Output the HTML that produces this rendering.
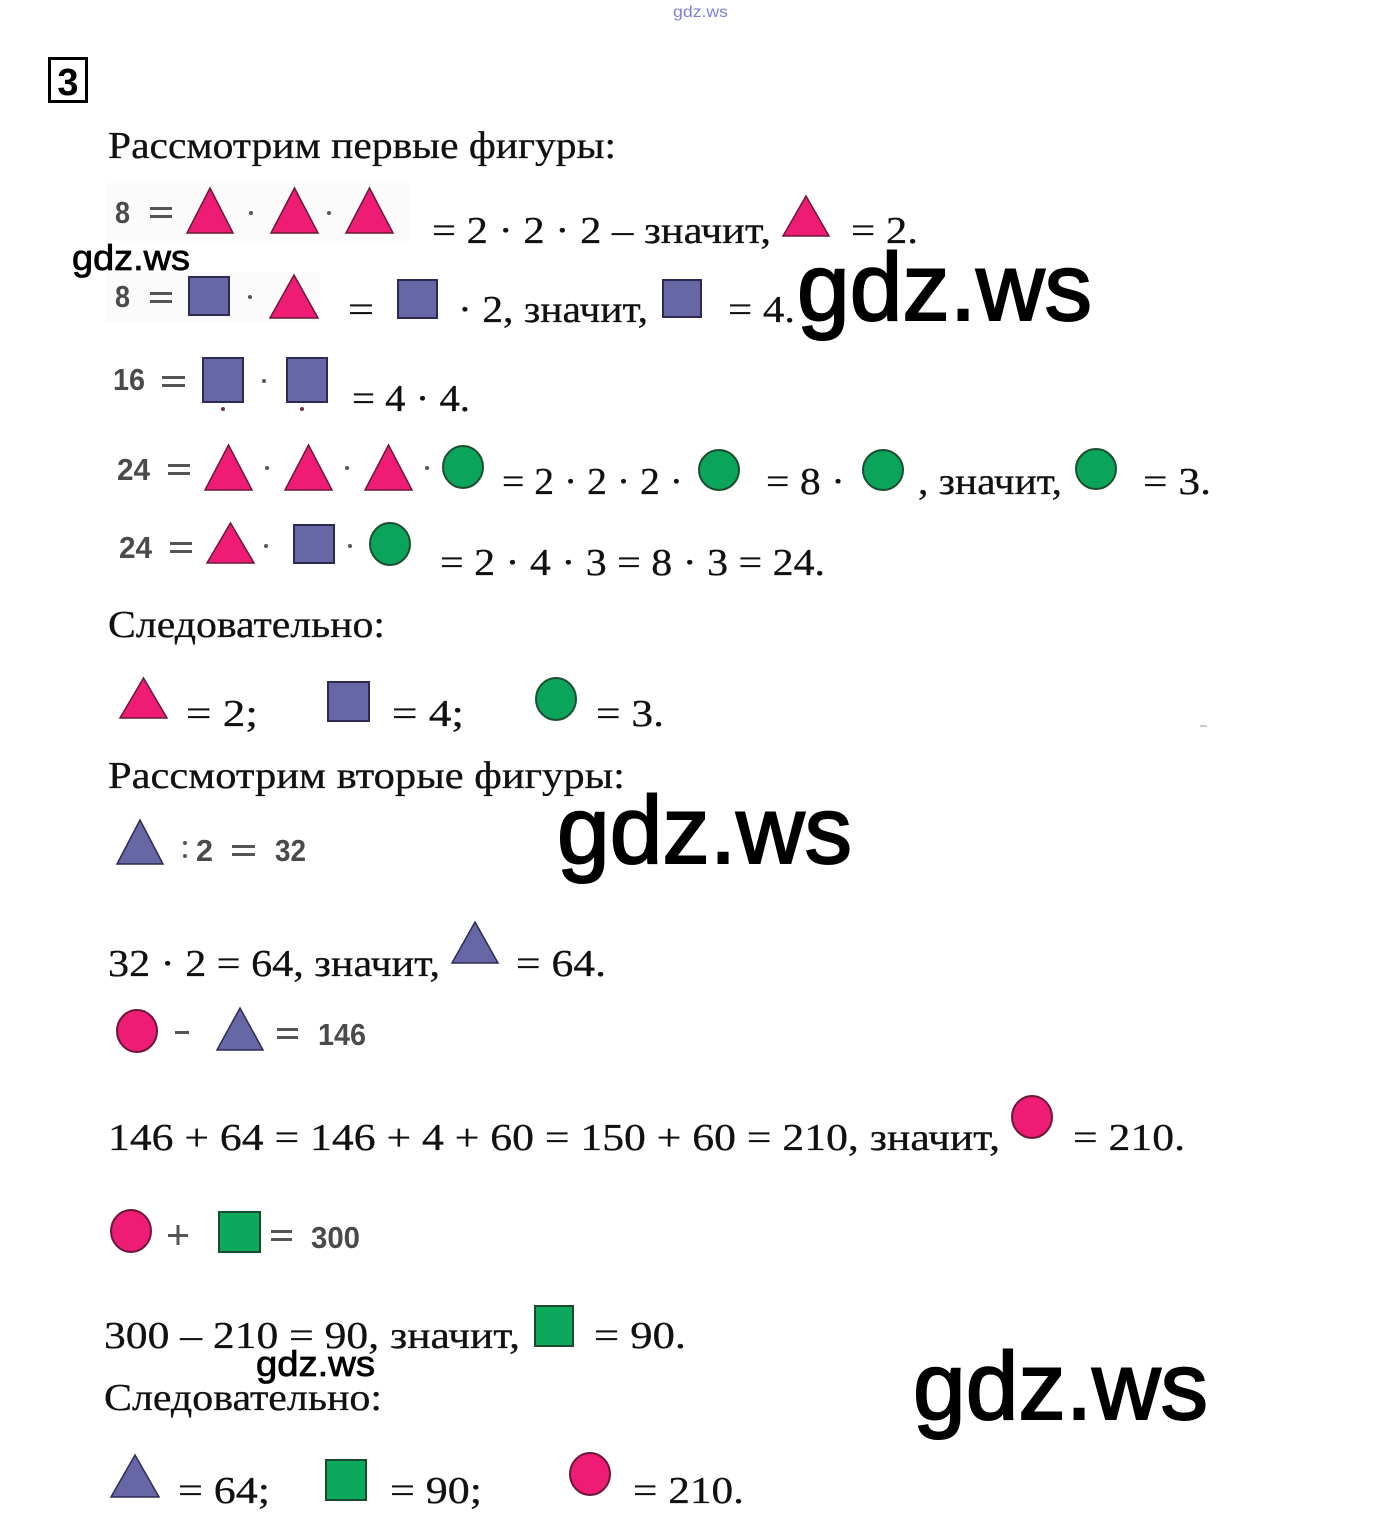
<!DOCTYPE html>
<html><head><meta charset="utf-8"><style>
html,body{margin:0;padding:0;background:#fff;width:1400px;height:1527px;overflow:hidden}
svg{display:block}
.s{font-family:"Liberation Serif",serif;font-size:38px;fill:#111;stroke:#111;stroke-width:0.3}
.g{font-family:"Liberation Sans",sans-serif;font-size:31px;font-weight:bold;fill:#4a4a4a}
.w{font-family:"Liberation Sans",sans-serif;fill:#000;stroke:#000}
.pt{fill:#ee1c74;stroke:#6b1838;stroke-width:1.5}
.bt{fill:#6767a6;stroke:#2b2b55;stroke-width:1.5}
.gc{fill:#0aa55a;stroke:#1d4d30;stroke-width:2}
.pc{fill:#ee1c74;stroke:#6b1838;stroke-width:2}
.gs{fill:#0ca85c;stroke:#1d4a2e;stroke-width:2}
.bs{fill:#6767a6;stroke:#2b2b55;stroke-width:2}
.gr{fill:#555}
</style></head><body>
<svg width="1400" height="1527" viewBox="0 0 1400 1527" xmlns="http://www.w3.org/2000/svg">
<!-- top watermark -->
<text x="673" y="17" font-family="Liberation Sans,sans-serif" font-size="16" fill="#7f7fdc" textLength="55" lengthAdjust="spacingAndGlyphs">gdz.ws</text>
<!-- box 3 -->
<rect x="49.5" y="58.5" width="37" height="43" fill="none" stroke="#000" stroke-width="3"/>
<text x="68" y="95" text-anchor="middle" font-family="Liberation Sans,sans-serif" font-weight="bold" font-size="38" fill="#000">3</text>

<text class="s" x="108" y="158" textLength="508" lengthAdjust="spacingAndGlyphs">Рассмотрим первые фигуры:</text>

<!-- row 2 -->
<rect x="105" y="183" width="305" height="58" fill="#fbfbfb"/>
<text class="g" x="115" y="223" textLength="15" lengthAdjust="spacingAndGlyphs">8</text>
<rect class="gr" x="150" y="207" width="22" height="3"/><rect class="gr" x="150" y="215" width="22" height="3"/>
<polygon class="pt" points="210,188 233,233 187,233"/>
<circle class="gr" cx="251" cy="213" r="2"/>
<polygon class="pt" points="294.5,188 318,233 271,233"/>
<circle class="gr" cx="329" cy="213" r="2"/>
<polygon class="pt" points="369.5,188 393,233 346,233"/>
<text class="s" x="432" y="243" textLength="339" lengthAdjust="spacingAndGlyphs">= 2 · 2 · 2 – значит,</text>
<polygon class="pt" points="806,196 829,236 783,236"/>
<text class="s" x="851" y="243" textLength="67" lengthAdjust="spacingAndGlyphs">= 2.</text>

<text class="w" x="72" y="270" font-size="36" stroke-width="0.8" textLength="118" lengthAdjust="spacingAndGlyphs">gdz.ws</text>

<!-- row 3 -->
<rect x="105" y="272" width="215" height="50" fill="#fbfbfb"/>
<text class="g" x="115" y="307" textLength="15" lengthAdjust="spacingAndGlyphs">8</text>
<rect class="gr" x="150" y="292" width="22" height="3"/><rect class="gr" x="150" y="300" width="22" height="3"/>
<rect class="bs" x="189" y="277" width="40" height="38"/>
<circle class="gr" cx="250" cy="297" r="2"/>
<polygon class="pt" points="294,275 318,318 270,318"/>
<text class="s" x="348" y="322" textLength="26" lengthAdjust="spacingAndGlyphs">=</text>
<rect class="bs" x="398" y="280" width="39" height="38"/>
<text class="s" x="458" y="322" textLength="190" lengthAdjust="spacingAndGlyphs">· 2, значит,</text>
<rect class="bs" x="663" y="280" width="38" height="37"/>
<text class="s" x="728" y="322" font-size="34" textLength="67" lengthAdjust="spacingAndGlyphs">= 4.</text>
<text class="w" x="797" y="320" font-size="96" stroke-width="2" textLength="295" lengthAdjust="spacingAndGlyphs">gdz.ws</text>

<!-- row 4 -->
<text class="g" x="113" y="390" textLength="32" lengthAdjust="spacingAndGlyphs">16</text>
<rect class="gr" x="162" y="376" width="23" height="3"/><rect class="gr" x="162" y="384" width="23" height="3"/>
<rect class="bs" x="203" y="358" width="40" height="44"/>
<circle class="gr" cx="264" cy="381" r="2"/>
<rect class="bs" x="287" y="358" width="40" height="44"/>
<circle cx="223" cy="409" r="2" fill="#7a3040"/><circle cx="302" cy="409" r="2" fill="#7a3040"/>
<text class="s" x="352" y="411" textLength="118" lengthAdjust="spacingAndGlyphs">= 4 · 4.</text>

<!-- row 5 -->
<text class="g" x="117" y="480" textLength="33" lengthAdjust="spacingAndGlyphs">24</text>
<rect class="gr" x="168" y="464" width="22" height="3"/><rect class="gr" x="168" y="472" width="22" height="3"/>
<polygon class="pt" points="228.5,445 252,490 205,490"/>
<circle class="gr" cx="267" cy="468" r="2"/>
<polygon class="pt" points="308.5,445 332,490 285,490"/>
<circle class="gr" cx="347" cy="468" r="2"/>
<polygon class="pt" points="388.5,445 412,490 365,490"/>
<circle class="gr" cx="427" cy="468" r="2"/>
<ellipse class="gc" cx="463" cy="467" rx="20" ry="21"/>
<text class="s" x="502" y="494" textLength="181" lengthAdjust="spacingAndGlyphs">= 2 · 2 · 2 ·</text>
<ellipse class="gc" cx="719" cy="470" rx="20" ry="20"/>
<text class="s" x="766" y="494" textLength="79" lengthAdjust="spacingAndGlyphs">= 8 ·</text>
<ellipse class="gc" cx="883" cy="470" rx="20" ry="20"/>
<text class="s" x="918" y="494" textLength="144" lengthAdjust="spacingAndGlyphs">, значит,</text>
<ellipse class="gc" cx="1096" cy="469" rx="20" ry="20"/>
<text class="s" x="1143" y="494" textLength="68" lengthAdjust="spacingAndGlyphs">= 3.</text>

<!-- row 6 -->
<text class="g" x="119" y="558" textLength="33" lengthAdjust="spacingAndGlyphs">24</text>
<rect class="gr" x="170" y="542" width="22" height="3"/><rect class="gr" x="170" y="550" width="22" height="3"/>
<polygon class="pt" points="230.5,523 254,563 207,563"/>
<circle class="gr" cx="266" cy="546" r="2"/>
<rect class="bs" x="294" y="525" width="40" height="38"/>
<circle class="gr" cx="350" cy="546" r="2"/>
<ellipse class="gc" cx="390" cy="544" rx="20" ry="21"/>
<text class="s" x="440" y="575" textLength="385" lengthAdjust="spacingAndGlyphs">= 2 · 4 · 3 = 8 · 3 = 24.</text>

<text class="s" x="108" y="637" textLength="277" lengthAdjust="spacingAndGlyphs">Следовательно:</text>

<!-- row 8 -->
<polygon class="pt" points="143.5,678 167,718 120,718"/>
<text class="s" x="186" y="726" textLength="72" lengthAdjust="spacingAndGlyphs">= 2;</text>
<rect class="bs" x="328" y="682" width="41" height="39"/>
<text class="s" x="392" y="726" textLength="72" lengthAdjust="spacingAndGlyphs">= 4;</text>
<ellipse class="gc" cx="556" cy="699" rx="20" ry="21"/>
<text class="s" x="596" y="726" textLength="68" lengthAdjust="spacingAndGlyphs">= 3.</text>
<rect x="1200" y="725" width="7" height="2" fill="#ccc"/>

<text class="s" x="108" y="788" textLength="517" lengthAdjust="spacingAndGlyphs">Рассмотрим вторые фигуры:</text>

<!-- row 10 -->
<polygon class="bt" points="140,820 163,864 117,864"/>
<circle class="gr" cx="185" cy="843" r="2"/><circle class="gr" cx="185" cy="856" r="2"/>
<text class="g" x="196" y="861" textLength="17" lengthAdjust="spacingAndGlyphs">2</text>
<rect class="gr" x="232" y="845" width="23" height="3"/><rect class="gr" x="232" y="853" width="23" height="3"/>
<text class="g" x="275" y="861" textLength="31" lengthAdjust="spacingAndGlyphs">32</text>
<text class="w" x="557" y="863" font-size="96" stroke-width="2" textLength="295" lengthAdjust="spacingAndGlyphs">gdz.ws</text>

<!-- row 11 -->
<text class="s" x="108" y="976" textLength="332" lengthAdjust="spacingAndGlyphs">32 · 2 = 64, значит,</text>
<polygon class="bt" points="475,922 498,963 452,963"/>
<text class="s" x="516" y="976" textLength="90" lengthAdjust="spacingAndGlyphs">= 64.</text>

<!-- row 12 -->
<ellipse class="pc" cx="137" cy="1031" rx="20" ry="21"/>
<rect class="gr" x="175" y="1031" width="14" height="3"/>
<polygon class="bt" points="240,1008 263,1050 217,1050"/>
<rect class="gr" x="277" y="1028" width="21" height="3"/><rect class="gr" x="277" y="1036" width="21" height="3"/>
<text class="g" x="318" y="1045" textLength="48" lengthAdjust="spacingAndGlyphs">146</text>

<!-- row 13 -->
<text class="s" x="108" y="1150" textLength="892" lengthAdjust="spacingAndGlyphs">146 + 64 = 146 + 4 + 60 = 150 + 60 = 210, значит,</text>
<ellipse class="pc" cx="1032" cy="1117" rx="20" ry="21"/>
<text class="s" x="1073" y="1150" textLength="112" lengthAdjust="spacingAndGlyphs">= 210.</text>

<!-- row 14 -->
<ellipse class="pc" cx="131" cy="1231" rx="20" ry="21"/>
<rect class="gr" x="168" y="1234" width="20" height="3"/><rect class="gr" x="176.5" y="1225" width="3" height="20"/>
<rect class="gs" x="219" y="1212" width="41" height="40"/>
<rect class="gr" x="271" y="1230" width="21" height="3"/><rect class="gr" x="271" y="1238" width="21" height="3"/>
<text class="g" x="311" y="1248" textLength="49" lengthAdjust="spacingAndGlyphs">300</text>

<!-- row 15 -->
<text class="s" x="104" y="1348" textLength="416" lengthAdjust="spacingAndGlyphs">300 – 210 = 90, значит,</text>
<rect class="gs" x="535" y="1306" width="38" height="40"/>
<text class="s" x="594" y="1348" textLength="92" lengthAdjust="spacingAndGlyphs">= 90.</text>

<text class="w" x="256" y="1376" font-size="36" stroke-width="0.8" textLength="119" lengthAdjust="spacingAndGlyphs">gdz.ws</text>
<text class="s" x="104" y="1410" textLength="278" lengthAdjust="spacingAndGlyphs">Следовательно:</text>
<text class="w" x="913" y="1419" font-size="96" stroke-width="2" textLength="295" lengthAdjust="spacingAndGlyphs">gdz.ws</text>

<!-- row 17 -->
<polygon class="bt" points="135,1455 159,1497 111,1497"/>
<text class="s" x="178" y="1503" textLength="92" lengthAdjust="spacingAndGlyphs">= 64;</text>
<rect class="gs" x="326" y="1460" width="40" height="40"/>
<text class="s" x="390" y="1503" textLength="92" lengthAdjust="spacingAndGlyphs">= 90;</text>
<ellipse class="pc" cx="590" cy="1474" rx="20" ry="21"/>
<text class="s" x="633" y="1503" textLength="111" lengthAdjust="spacingAndGlyphs">= 210.</text>
</svg>
</body></html>
